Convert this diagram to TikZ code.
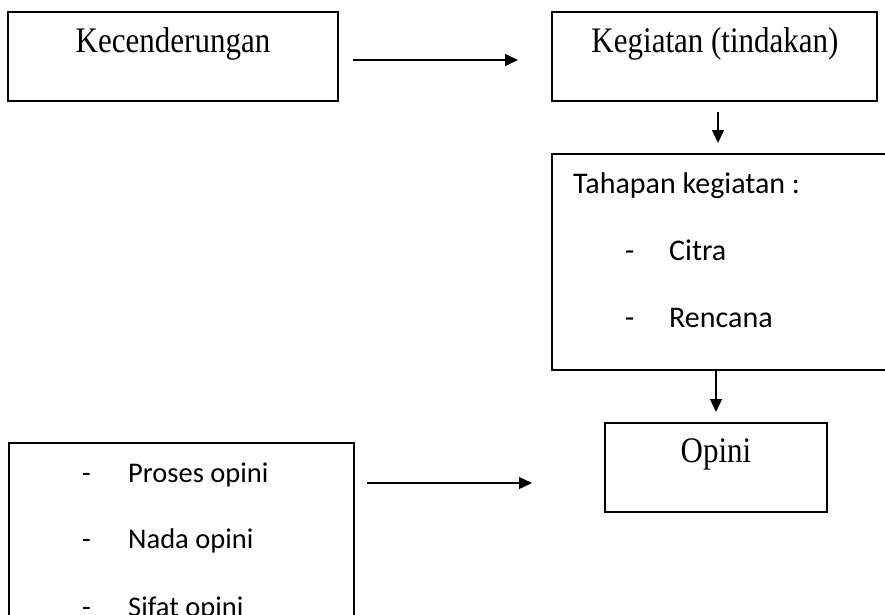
\documentclass[tikz,border=0pt]{standalone}
\usepackage{fontspec}
\setmainfont{Liberation Serif}
\newfontfamily\calib{Carlito}
\usetikzlibrary{arrows.meta}
\newcommand{\tall}[1]{\scalebox{1}[1.16]{#1}}
\begin{document}
\begin{tikzpicture}[x=1pt,y=-1pt,
  box/.style={draw=black, line width=1.4pt, inner sep=0pt},
  serif/.style={font=\fontsize{31}{36}\selectfont, inner sep=0pt},
  cal/.style={font=\calib\fontsize{30}{36}\selectfont, inner sep=0pt, anchor=base west},
  calsm/.style={font=\calib\fontsize{28.5}{34}\selectfont, inner sep=0pt, anchor=base west},
  arr/.style={line width=1.3pt, -{Triangle[length=13pt,width=12pt]}}]
\useasboundingbox (0,0) rectangle (885,614);
\clip (0,0) rectangle (885,614);
% boxes
\node[box, minimum width=330pt, minimum height=89pt] (b1) at (173,56.5) {};
\node[box, minimum width=325pt, minimum height=89pt] (b2) at (714.5,56.5) {};
\node[box, minimum width=360pt, minimum height=216pt] (b3) at (732,262) {};
\node[box, minimum width=222pt, minimum height=89pt] (b5) at (716,467.5) {};
\node[box, minimum width=345pt, minimum height=240pt] (b4) at (181.5,563) {};
% texts
\node[serif, anchor=base] (t1) at (173,52) {\tall{Kecenderungan}};
\node[serif, anchor=base] (t2) at (715,52) {\tall{Kegiatan (tindakan)}};
\node[serif, anchor=base] (t5) at (716,462) {\tall{Opini}};
\node[cal] (t3) at (573,193) {Tahapan kegiatan :};
\node[cal] (d1) at (625,260) {-};
\node[cal] (c1) at (669,260) {Citra};
\node[cal] (d2) at (625,327) {-};
\node[cal] (c2) at (669,327) {Rencana};
\node[calsm] (d3) at (82,482) {-};
\node[calsm] (p1) at (128,482) {Proses opini};
\node[calsm] (d4) at (82,548) {-};
\node[calsm] (p2) at (128,548) {Nada opini};
\node[calsm] (d5) at (82,616) {-};
\node[calsm] (p3) at (128,616) {Sifat opini};
% arrow end points
\coordinate (a1s) at (353,60);
\coordinate (a1e) at (518,60);
\coordinate (a2s) at (718,112);
\coordinate (a2e) at (718,143);
\coordinate (a3s) at (716,370);
\coordinate (a3e) at (716,412);
\coordinate (a4s) at (367,483);
\coordinate (a4e) at (532,483);
\draw[arr] (a1s) -- (a1e);
\draw[arr] (a2s) -- (a2e);
\draw[arr] (a3s) -- (a3e);
\draw[arr] (a4s) -- (a4e);
\end{tikzpicture}
\end{document}
